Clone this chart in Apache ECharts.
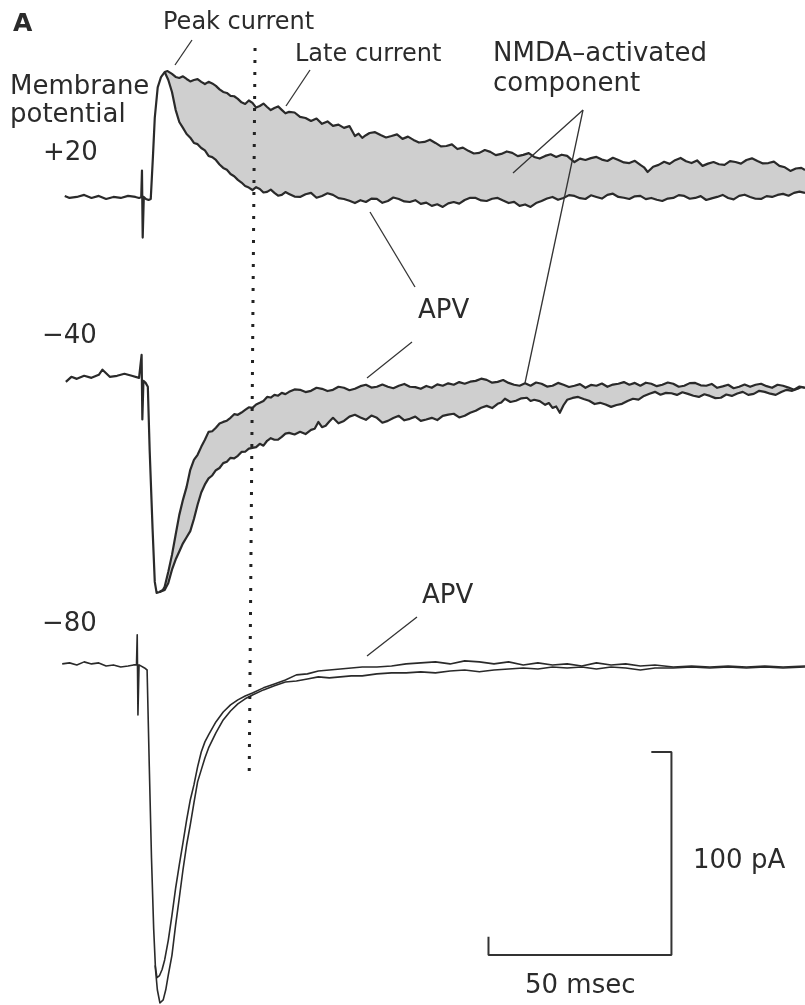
<!DOCTYPE html>
<html>
<head>
<meta charset="utf-8">
<script src="https://cdn.jsdelivr.net/npm/echarts@6/dist/echarts.min.js"></script>
<style>
  html, body { margin: 0; padding: 0; background: #fff; }
  #chart { width: 805px; height: 1005px; }
</style>
</head>
<body>
<div id="chart"></div>
<script>
// time in ms (0 = stimulus), current in pA relative to each trace's own baseline
const plus20Ctrl = [
  [-21.3,0.5],[-20,-0.5],[-18,0],[-16,1.0],[-14,-0.5],[-12,0.5],[-10,-1.0],[-8,0],[-6,-0.5],[-4,0.5],[-2,0],[-1,-0.5],
  [-0.4,0],[-0.2,13],[0,-20],[0.3,0],[0.9,-1],[1.6,-1.5],
  [2.2,-1],[2.8,20],[3.3,39],[4.1,54],[5.0,59],[6.0,61.5],[6.8,62],
  [8,60.6],[9,59.1],[10,58.6],[11,59.4],[12,58.1],[13,56.9],[14,57.6],[15,58.0],[16,56.7],[17,55.6],[18,56.7],
  [19,55.9],[20,54.7],[21,53.0],[22,51.7],[23,51.2],[24,49.8],[25,49.6],[26,48.3],[27,46.6],
  [28,45.8],[29,47.5],[30,46.3],[31,44.0],[32,44.8],[33,46.0],[34,44.3],[35,42.8],[36,43.8],[37,44.6],[38,42.9],
  [39,41.2],[40,41.9],[41.5,41.6],[43,39.4],[44.5,38.9],[46,37.4],[47.5,38.6],[49,36.0],[50.5,37.2],[52,35.0],
  [53.5,35.6],[55,34.0],[56.5,34.9],[58,30.0],[59,31.2],[60,29.1],[61,30.4],[62,31.5],[63.5,31.9],[65,30.5],
  [66.5,29.3],[68,30.0],[69.5,30.8],[71,28.6],[72.5,29.7],[74,28.1],[75.5,26.8],[77,27.1],[78.5,28.2],[80,26.6],
  [81.5,24.9],[83,25.1],[84.5,25.9],[86,23.6],[87.5,24.3],[89,22.7],[90.5,21.4],[92,21.7],[93.5,23.1],[95,22.2],
  [96.5,20.6],[98,21.2],[99.5,22.4],[101,21.7],[102.5,20.1],[104,20.7],[105.5,21.6],[107,19.7],[108.5,18.9],
  [110,20.2],[111.5,21.0],[113,19.7],[114.5,20.8],[116,20.2],[117,18.6],[118,17.2],[119.5,18.9],[121,18.2],
  [122.5,19.1],[124,19.7],[125.5,18.4],[127,17.7],[128.5,19.3],[130,18.2],[131.5,17.0],[133,16.7],[134.5,17.8],
  [136,15.8],[137,14.6],[138,12.3],[139.5,14.9],[141,15.8],[142.5,17.3],[144,16.3],[145.5,18.1],[147,19.2],
  [148.5,17.6],[150,16.7],[151.5,18.0],[153,15.3],[154.5,16.4],[156,17.2],[157.5,16.1],[159,15.8],[160.5,17.6],
  [162,17.2],[163.5,16.4],[165,18.2],[166.5,19.0],[168,17.7],[169.5,16.5],[171,16.7],[172.5,17.4],[174,15.3],
  [175.5,14.6],[177,12.8],[178.5,14.0],[180,14.3],[181,13.3]
];
const plus20Apv = [
  [6.0,61.5],[7,57.6],[8,51.7],[9,42.9],[10,36.9],[11,34.0],[12,31.0],[13,29.2],[14,26.6],[15,26.0],[16,24.1],
  [17,22.9],[18,20.2],[19,19.6],[20,18.2],[21,16.0],[22,14.3],[23,13.4],[24,11.3],[25,10.2],[26,8.4],[27,7.1],
  [28,5.4],[29,4.6],[30,3.4],[31,4.8],[32,3.9],[33,2.2],[34,2.5],[35,3.6],[36,2.0],[37,0.6],[38,1.0],[39,2.4],
  [40,1.5],[41.5,0.2],[43,0],[44.5,1.3],[46,2.0],[47.5,-0.4],[49,0.5],[50.5,1.8],[52,1.0],[53.5,-0.6],[55,-1.0],
  [56.5,-1.9],[58,-3.0],[59.5,-1.6],[61,-2.5],[62.5,-0.8],[64,-1.0],[65.5,-2.9],[67,-2.0],[68.5,-0.3],[70,-1.0],
  [71.5,-2.2],[73,-2.5],[74.5,-1.6],[76,-3.4],[77.5,-2.8],[79,-4.4],[80.5,-3.6],[82,-4.9],[83.5,-3.2],[85,-2.5],
  [86.5,-3.3],[88,-1.5],[89.5,-0.4],[91,-0.5],[92.5,-1.7],[94,-2.0],[95.5,-0.9],[97,-0.5],[98.5,-1.8],[100,-3.0],
  [101.5,-2.4],[103,-4.4],[104.5,-3.7],[106,-4.9],[107.5,-3.0],[109,-2.0],[110.5,-0.8],[112,0],[113.5,-1.4],
  [115,-0.5],[116.5,0.9],[118,0.5],[119.5,-0.6],[121,-1.0],[122.5,0.8],[124,0],[125.5,-0.8],[127,1.0],[128.5,1.6],
  [130,0],[131.5,-0.4],[133,-1.0],[134.5,0.3],[136,0.5],[137.5,-1.1],[139,-0.5],[140.5,-1.4],[142,-2.0],
  [143.5,-0.8],[145,-0.5],[146.5,0.9],[148,0.5],[149.5,-0.9],[151,-0.5],[152.5,0.4],[154,-1.5],[155.5,-0.7],
  [157,0],[158.5,1.0],[160,-0.5],[161.5,-1.2],[163,0.5],[164.5,1.1],[166,0],[167.5,-0.9],[169,-1.0],[170.5,0.4],
  [172,0],[173.5,1.0],[175,1.5],[176.5,0.6],[178,2.0],[179.5,2.6],[181,2.0]
];
const minus40Ctrl = [
  [-21,-2.5],[-19.5,0],[-18,-1.0],[-16,0.5],[-14,-0.5],[-12,1.0],[-11,3.5],[-9,0],[-7,0.5],[-5,1.5],[-3,0.5],[-1,-0.5],
  [-0.5,0],[-0.3,10.8],[-0.1,-21],[0.2,-2],[0.8,-3],[1.4,-4.9],
  [1.9,-36],[2.7,-75],[3.3,-101],[3.8,-106.4],[4.6,-106],[5.5,-105],[6,-103.4],[7,-96],[8,-87.7],[9,-77.8],
  [10,-68],[11,-60.6],[12,-54.2],[13,-45.8],[14,-40.9],[15,-38.4],[16,-34.5],[17,-31.0],[18,-27.1],[19,-26.8],
  [20,-25.1],[21,-23.0],[22,-22.2],[23,-21.6],[24,-20.2],[25,-18.4],[26,-18.7],[27,-17.6],
  [28,-16.3],[29,-15.0],[30,-15.3],[31,-13.6],[32,-12.8],[33,-11.9],[34,-9.9],[35,-10.2],[36,-8.9],[37,-9.3],
  [38,-7.9],[39,-8.5],[40,-7.4],[41.5,-6.2],[43,-6.4],[44.5,-7.5],[46,-6.9],[47.5,-5.4],[49,-5.9],[50.5,-7.0],
  [52,-6.4],[53.5,-4.9],[55,-5.4],[56.5,-6.6],[58,-5.9],[59.5,-4.6],[61,-3.9],[62.5,-5.3],[64,-4.9],[65.5,-3.8],
  [67,-4.9],[68.5,-5.6],[70,-4.4],[71.5,-3.5],[73,-4.9],[74.5,-5.1],[76,-5.9],[77.5,-4.5],[79,-5.4],[80.5,-3.7],
  [82,-4.4],[83.5,-3.2],[85,-3.9],[86.5,-2.6],[88,-3.4],[89.5,-2.4],[91,-2.0],[92.5,-0.9],[94,-1.5],[95.5,-2.9],
  [97,-2.5],[98.5,-1.6],[100,-3.0],[101.5,-3.9],[103,-4.4],[104.5,-3.2],[106,-4.4],[107.5,-2.8],[109,-3.4],
  [110.5,-4.8],[112,-4.4],[113.5,-3.0],[115,-3.9],[116.5,-5.0],[118,-4.4],[119.5,-3.6],[121,-5.4],[122.5,-4.0],
  [124,-4.4],[125.5,-3.3],[127,-4.9],[128.5,-3.8],[130,-3.4],[131.5,-2.6],[133,-3.9],[134.5,-3.0],[136,-4.4],
  [137.5,-2.9],[139,-3.4],[140.5,-4.6],[142,-3.9],[143.5,-2.8],[145,-3.4],[146.5,-4.9],[148,-4.4],[149.5,-3.1],
  [151,-3.0],[152.5,-4.2],[154,-4.4],[155.5,-3.5],[157,-5.4],[158.5,-4.7],[160,-3.9],[161.5,-5.6],[163,-4.9],
  [164.5,-3.8],[166,-4.9],[167.5,-3.9],[169,-3.4],[170.5,-4.6],[172,-5.4],[173.5,-3.9],[175,-4.4],[176.5,-5.3],
  [178,-6.4],[179.5,-4.8],[181,-5.4]
];
const minus40Apv = [
  [4.6,-106],[5,-106],[6,-105],[7,-101.5],[8,-95],[9,-90],[10,-86],[11,-82],[12,-79],[13,-76],[14,-70],[15,-63],
  [16,-57],[17,-53],[18,-50],[19,-48.6],[20,-46],[21,-44.9],[22,-42.5],[23,-41.8],[24,-39.9],[25,-40.2],
  [26,-38.9],[27,-37.0],[28,-36.9],[29,-35.4],[30,-35.0],[31,-34.6],[32,-33.0],[33,-33.9],[34,-31.5],[35,-30.2],
  [36,-31.0],[37,-30.9],[38,-29.6],[39,-28.0],[40,-27.6],[41.5,-28.4],[43,-27.1],[44.5,-28.2],[46,-26.1],
  [47,-25.6],[48,-22.2],[49,-24.8],[50,-24.1],[51,-22.0],[52,-20.2],[53.5,-22.9],[55,-21.7],[56.5,-19.6],
  [58,-18.7],[59.5,-20.0],[61,-21.2],[62.5,-19.1],[64,-20.2],[65.5,-22.6],[67,-21.7],[68.5,-20.3],[70,-19.2],
  [71.5,-21.4],[73,-20.7],[74.5,-19.6],[76,-21.7],[77.5,-21.0],[79,-20.2],[80.5,-21.3],[82,-19.2],[83.5,-18.6],
  [85,-18.2],[86.5,-20.0],[88,-19.2],[89.5,-17.7],[91,-16.7],[92.5,-15.2],[94,-14.3],[95.5,-15.4],[97,-13.3],
  [98,-12.6],[99,-10.8],[100.5,-12.4],[102,-11.8],[103.5,-10.6],[105,-10.3],[106,-11.9],[107,-11.3],[108.5,-12.0],
  [110,-13.8],[111,-12.9],[112,-15.3],[113,-14.6],[114,-17.7],[115,-14.0],[116,-11.3],[117.5,-10.4],[119,-9.9],
  [120.5,-10.9],[122,-11.8],[123.5,-13.4],[125,-12.8],[126.5,-13.6],[128,-14.8],[129.5,-13.9],[131,-13.3],
  [132.5,-11.9],[134,-10.8],[135.5,-11.2],[137,-9.4],[138.5,-8.3],[140,-7.4],[141.5,-8.8],[143,-7.9],[144.5,-8.1],
  [146,-8.9],[147.5,-7.6],[149,-8.4],[150.5,-9.3],[152,-9.9],[153.5,-8.6],[155,-9.4],[156.5,-10.5],[158,-10.3],
  [159.5,-8.7],[161,-9.4],[162.5,-8.2],[164,-7.4],[165.5,-8.9],[167,-8.4],[168.5,-6.9],[170,-7.4],[171.5,-8.3],
  [173,-8.9],[174.5,-7.5],[176,-6.4],[177.5,-6.9],[179,-5.9],[180,-5.0],[181,-5.4]
];
const minus80Ctrl = [
  [-22,0.5],[-20,1.0],[-18,0],[-16,1.5],[-14,0.5],[-12,1.0],[-10,-0.5],[-8,0],[-6,-1.0],[-4,-0.5],[-2.5,0],
  [-1.7,0],[-1.5,14.8],[-1.3,-24.6],[-1.0,0],[0.5,-1.5],[1.2,-2.5],
  [1.8,-50],[2.4,-95],[3.0,-130],[3.5,-150],[4.0,-160],[4.7,-166.5],[5.6,-165],[6.3,-160],[7,-152.7],[8,-142.9],
  [9,-128],[10,-114.8],[11,-101],[12,-88.7],[13,-78.8],[14,-68],[15,-57.6],[16,-51.7],[17,-45.8],[18,-40.9],
  [20,-33.5],[22,-27.1],[24,-22.7],[26,-19.2],[28,-16.7],[30,-14.8],[33,-12.3],[36,-10.3],[39,-8.4],[42,-7.9],
  [45,-6.9],[48,-5.9],[51,-6.4],[54,-5.9],[57,-5.4],[60,-5.4],[64,-4.4],[68,-3.9],[72,-3.9],[76,-3.4],[80,-3.9],
  [84,-3.0],[88,-2.5],[92,-3.4],[96,-2.5],[100,-2.0],[104,-1.5],[108,-2.0],[112,-1.0],[116,-1.5],[120,-1.0],
  [124,-2.0],[128,-1.0],[132,-1.5],[136,-2.5],[140,-1.5],[145,-1.5],[150,-1.0],[155,-1.5],[160,-1.0],[165,-1.5],
  [170,-1.0],[175,-1.5],[181,-1.0]
];
const minus80Apv = [
  [3.4,-148],[3.9,-154],[4.6,-153],[5.3,-150],[6,-145.3],[7,-135.5],[8,-123.2],[9,-109.9],[10,-98.5],[11,-87.7],
  [12,-76.4],[13,-66.5],[14,-59.1],[15,-50.2],[16,-42.9],[17,-37.9],[18,-34.5],[20,-28.1],[22,-23.2],[24,-19.7],
  [26,-17.2],[28,-15.3],[30,-13.8],[33,-11.3],[36,-9.4],[39,-7.4],[42,-4.9],[45,-4.4],[48,-3.0],[51,-2.5],
  [54,-2.0],[57,-1.5],[60,-1.0],[64,-1.0],[68,-0.5],[72,0.5],[76,1.0],[80,1.5],[84,0.5],[88,2.0],[92,1.5],
  [96,0.5],[100,1.5],[104,0],[108,1.0],[112,0],[116,0.5],[120,-0.5],[124,1.0],[128,0],[132,0.5],[136,-0.5],
  [140,0],[145,-1.0],[150,-0.5],[155,-1.0],[160,-0.5],[165,-1.0],[170,-0.5],[175,-1.0],[181,-0.5]
];
const holdingLabels = ['+20', '\u221240', '\u221280'];
const scaleBarMs = 50;
const scaleBarPa = 100;

// vertical offsets (pA, on the shared axis) where each trace's baseline sits
const baseOffsets = [398.0, 309.4, 167.5];
const ink = '#2a2a2a';
const font = '"DejaVu Sans", sans-serif';

function trace(points, base, width) {
  return {
    type: 'line',
    data: points.map(p => [p[0], base + p[1]]),
    symbol: 'none',
    lineStyle: { color: ink, width: width, join: 'round' },
    z: 3,
    animation: false
  };
}

function fillBetween(upper, lower, base, fromT) {
  const up = upper.filter(p => p[0] >= fromT);
  const lo = lower.filter(p => p[0] >= fromT);
  return {
    type: 'custom',
    data: [[0, 0]],
    z: 1,
    silent: true,
    renderItem: function (params, api) {
      const pts = up.map(p => api.coord([p[0], base + p[1]]))
        .concat(lo.slice().reverse().map(p => api.coord([p[0], base + p[1]])));
      return { type: 'polygon', shape: { points: pts }, style: { fill: '#cfcfcf' } };
    },
    animation: false
  };
}

const barX = 94.5, barY = 24.6;
const scaleBar = {
  type: 'line',
  data: [[barX, barY + 9], [barX, barY], [barX + scaleBarMs, barY],
         [barX + scaleBarMs, barY + scaleBarPa], [barX + scaleBarMs - 5.5, barY + scaleBarPa]],
  symbol: 'none',
  lineStyle: { color: '#333', width: 2 },
  animation: false
};

const dotted = {
  type: 'line',
  data: [[30.7, 471.4], [29.1, 111.8]],
  symbol: 'none',
  lineStyle: { color: '#222', width: 3, type: [3, 9] },
  z: 4,
  animation: false
};

function label(text, x, y, size, weight) {
  return {
    type: 'text',
    style: { text: text, x: x, y: y, font: (weight || 'normal') + ' ' + size + 'px ' + font,
             fill: '#2b2b2b', verticalAlign: 'middle' },
    z: 10
  };
}
function pointer(x1, y1, x2, y2) {
  return { type: 'line', shape: { x1: x1, y1: y1, x2: x2, y2: y2 },
           style: { stroke: '#333', lineWidth: 1.3 }, z: 10 };
}

const chart = echarts.init(document.getElementById('chart'));
chart.setOption({
  animation: false,
  grid: { left: 0, right: 0, top: 0, bottom: 0 },
  xAxis: { type: 'value', min: -39, max: 181, show: false },
  yAxis: { type: 'value', min: 0, max: 495, show: false },
  series: [
    fillBetween(plus20Ctrl, plus20Apv, baseOffsets[0], 6),
    fillBetween(minus40Ctrl, minus40Apv, baseOffsets[1], 4.6),
    trace(plus20Ctrl, baseOffsets[0], 2.2),
    trace(plus20Apv, baseOffsets[0], 2.2),
    trace(minus40Ctrl, baseOffsets[1], 2.2),
    trace(minus40Apv, baseOffsets[1], 2.2),
    trace(minus80Ctrl, baseOffsets[2], 1.6),
    trace(minus80Apv, baseOffsets[2], 1.6),
    dotted,
    scaleBar
  ],
  graphic: [
    label('A', 13, 24, 25, 'bold'),
    label('Peak current', 163, 23, 24),
    label('Late current', 295, 55, 24),
    label('NMDA\u2013activated', 493, 54, 26),
    label('component', 493, 84, 26),
    label('Membrane', 10, 87, 26),
    label('potential', 10, 115, 26),
    label(holdingLabels[0], 43, 153, 26),
    label(holdingLabels[1], 42, 336, 26),
    label(holdingLabels[2], 42, 624, 26),
    label('APV', 418, 311, 26),
    label('APV', 422, 596, 26),
    label(scaleBarPa + ' pA', 693, 861, 26),
    label(scaleBarMs + ' msec', 525, 986, 26),
    pointer(192, 40, 175, 65),
    pointer(310, 70, 286, 106),
    pointer(583, 110, 513, 173),
    pointer(583, 110, 525, 383),
    pointer(370, 212, 415, 287),
    pointer(412, 342, 367, 378),
    pointer(417, 617, 367, 656)
  ]
});
</script>
</body>
</html>
